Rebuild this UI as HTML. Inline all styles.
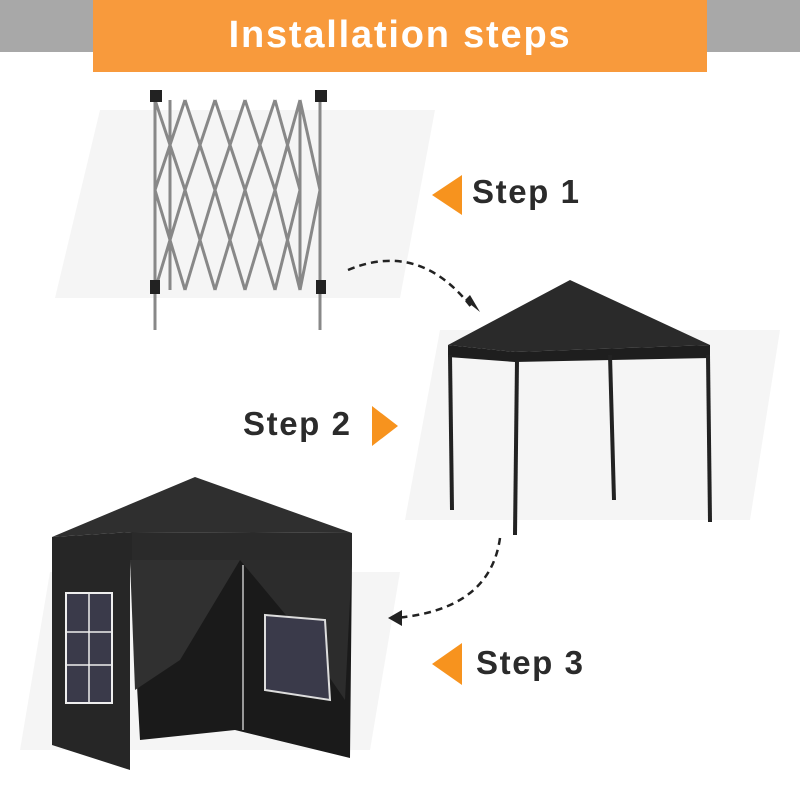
<!DOCTYPE html>
<html><head><style>
body{margin:0;width:800px;height:800px;background:#fff;overflow:hidden;position:relative;font-family:"Liberation Sans",sans-serif}
.t{position:absolute;font-weight:bold;font-size:33px;letter-spacing:1.6px;color:#2b2b2b}
</style></head><body>
<svg width="800" height="800" style="position:absolute;left:0;top:0">
<rect x="0" y="0" width="800" height="52" fill="#a8a8a8"/>
<rect x="93" y="0" width="614" height="72" fill="#f89a3c"/>
<text x="400" y="47" text-anchor="middle" font-family="Liberation Sans" font-weight="bold" font-size="38" letter-spacing="1.8" fill="#fff">Installation steps</text>
<polygon points="100,110 435,110 400,298 55,298" fill="#f5f5f5"/>
<polygon points="440,330 780,330 750,520 405,520" fill="#f5f5f5"/>
<polygon points="50,572 400,572 370,750 20,750" fill="#f5f5f5"/>
<g stroke="#888" stroke-width="3" fill="none">
<line x1="155" y1="95" x2="155" y2="330"/><line x1="320" y1="95" x2="320" y2="330"/>
<line x1="170" y1="100" x2="170" y2="290"/><line x1="300" y1="100" x2="300" y2="290"/>
<path d="M155,100 L185,190 L155,290 M185,100 L155,190 L185,290 M185,100 L215,190 L185,290 M215,100 L185,190 L215,290 M215,100 L245,190 L215,290 M245,100 L215,190 L245,290 M245,100 L275,190 L245,290 M275,100 L245,190 L275,290 M275,100 L300,190 L275,290 M300,100 L275,190 L300,290 M300,100 L320,190 L300,290"/>
</g>
<g fill="#222"><rect x="150" y="90" width="12" height="12"/><rect x="315" y="90" width="12" height="12"/><rect x="150" y="280" width="10" height="14"/><rect x="316" y="280" width="10" height="14"/></g>
<path d="M348,270 Q420,240 472,308" stroke="#222" stroke-width="2.5" stroke-dasharray="7,5" fill="none"/>
<polygon points="465,300 480,312 470,295" fill="#222"/>
<path d="M500,538 Q490,610 395,618" stroke="#222" stroke-width="2.5" stroke-dasharray="7,5" fill="none"/>
<polygon points="388,618 402,610 402,626" fill="#222"/>
<polygon points="432,195 462,175 462,215" fill="#f7931e"/>
<polygon points="398,426 372,406 372,446" fill="#f7931e"/>
<polygon points="432,664 462,643 462,685" fill="#f7931e"/>
<polygon points="570,280 448,345 515,352 710,345" fill="#2a2a2a"/>
<polygon points="448,345 515,352 710,345 710,358 515,362 448,357" fill="#1e1e1e"/>
<g stroke="#222" stroke-width="4"><line x1="450" y1="355" x2="452" y2="510"/><line x1="517" y1="360" x2="515" y2="535"/><line x1="708" y1="355" x2="710" y2="522"/><line x1="610" y1="355" x2="614" y2="500"/></g>
<polygon points="195,477 52,537 132,532 352,533" fill="#2f2f2f"/>
<polygon points="52,537 132,532 132,560 52,560" fill="#262626"/>
<polygon points="132,532 352,533 352,560 132,560" fill="#2a2a2a"/>
<polygon points="52,560 130,560 130,770 52,745" fill="#262626"/>
<polygon points="130,560 352,560 350,758 235,730 140,740" fill="#1a1a1a"/>
<polygon points="130,560 240,560 180,660 135,690" fill="#303030"/>
<polygon points="240,560 352,560 345,700 290,620" fill="#2c2c2c"/>
<polygon points="265,615 325,620 330,700 265,690" fill="#3a3a4a" stroke="#ddd" stroke-width="2"/>
<rect x="66" y="593" width="46" height="110" fill="#3a3a4a" stroke="#eee" stroke-width="2"/>
<g stroke="#eee" stroke-width="1.5"><line x1="89" y1="593" x2="89" y2="703"/><line x1="66" y1="632" x2="112" y2="632"/><line x1="66" y1="665" x2="112" y2="665"/></g>
<line x1="243" y1="565" x2="243" y2="730" stroke="#999" stroke-width="2"/>
</svg>
<div class="t" style="left:472px;top:173px">Step 1</div>
<div class="t" style="left:243px;top:405px">Step 2</div>
<div class="t" style="left:476px;top:644px">Step 3</div>
</body></html>
